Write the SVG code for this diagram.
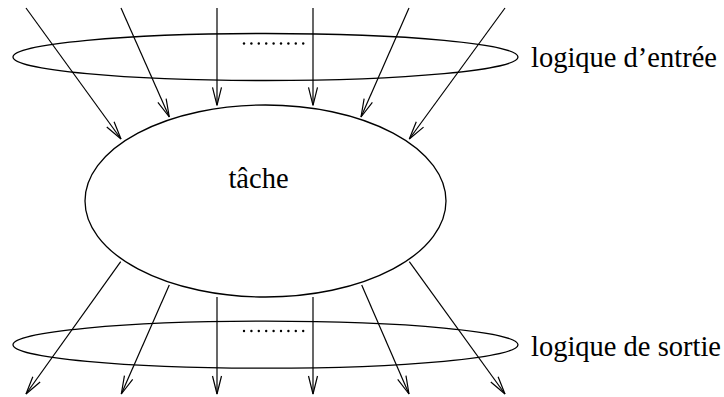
<svg xmlns="http://www.w3.org/2000/svg" width="724" height="397" viewBox="0 0 724 397">
<defs>
<style>
.ln{stroke:#000;stroke-width:1.2;fill:none}
.el{stroke:#000;stroke-width:1.3;fill:none}
.tx{font-size:28.5px;fill:#000}
.dot{fill:#000}
</style>
<marker id="ah" markerUnits="userSpaceOnUse" viewBox="-1 -1 20 11" refX="18" refY="4.5" markerWidth="20" markerHeight="11" orient="auto" overflow="visible">
<path d="M0,0 L18,4.5 L0,9" fill="none" stroke="#000" stroke-width="1.2"/>
</marker>
</defs>
<rect width="724" height="397" fill="#fff"/>
<g id="entree">
<ellipse class="el" cx="265.5" cy="57" rx="252.5" ry="23.5"/>
<g class="dot">
<circle cx="244" cy="43.5" r="1.2"/><circle cx="251.4" cy="43.5" r="1.2"/><circle cx="258.8" cy="43.5" r="1.2"/><circle cx="266.2" cy="43.5" r="1.2"/><circle cx="273.6" cy="43.5" r="1.2"/><circle cx="281" cy="43.5" r="1.2"/><circle cx="288.4" cy="43.5" r="1.2"/><circle cx="295.8" cy="43.5" r="1.2"/><circle cx="303.2" cy="43.5" r="1.2"/>
</g>
<text class="tx" font-family="'Liberation Serif', 'Times New Roman', serif" x="531" y="67">logique d’entrée</text>
</g>
<g id="tache">
<ellipse class="el" cx="265.5" cy="201" rx="180.5" ry="96"/>
<text class="tx" font-family="'Liberation Serif', 'Times New Roman', serif" x="258.5" y="188" text-anchor="middle">tâche</text>
</g>
<g id="sortie">
<ellipse class="el" cx="265.5" cy="344.7" rx="252.5" ry="23.5"/>
<g class="dot">
<circle cx="244" cy="331" r="1.2"/><circle cx="251.4" cy="331" r="1.2"/><circle cx="258.8" cy="331" r="1.2"/><circle cx="266.2" cy="331" r="1.2"/><circle cx="273.6" cy="331" r="1.2"/><circle cx="281" cy="331" r="1.2"/><circle cx="288.4" cy="331" r="1.2"/><circle cx="295.8" cy="331" r="1.2"/><circle cx="303.2" cy="331" r="1.2"/>
</g>
<text class="tx" font-family="'Liberation Serif', 'Times New Roman', serif" x="531" y="356">logique de sortie</text>
</g>
<g id="connectors" class="ln" marker-end="url(#ah)">
<line x1="26" y1="8" x2="121" y2="139"/>
<line x1="121" y1="8" x2="169.3" y2="117"/>
<line x1="217" y1="8" x2="217" y2="105.3"/>
<line x1="313" y1="8" x2="313" y2="105.3"/>
<line x1="409" y1="8" x2="361" y2="117"/>
<line x1="505" y1="8" x2="409.3" y2="139"/>
<line x1="120.7" y1="261.7" x2="26" y2="394"/>
<line x1="169.3" y1="285" x2="121.3" y2="394"/>
<line x1="217" y1="297" x2="217" y2="394"/>
<line x1="313" y1="297" x2="313" y2="394"/>
<line x1="361.7" y1="285" x2="409" y2="394"/>
<line x1="409.3" y1="261.7" x2="505" y2="394"/>
</g>
</svg>
